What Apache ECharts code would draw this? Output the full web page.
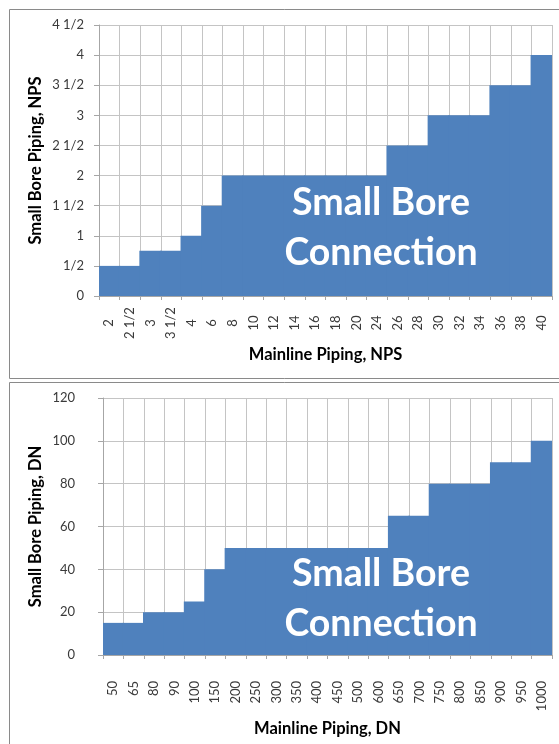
<!DOCTYPE html>
<html>
<head>
<meta charset="utf-8">
<script src="https://cdn.jsdelivr.net/npm/echarts@6/dist/echarts.min.js"></script>
<style>
html,body{margin:0;padding:0;background:#fff;}
#c{width:559px;height:744px;}
</style>
</head>
<body>
<div id="c"></div>
<script>
const npsCategories = ['2','2 1/2','3','3 1/2','4','6','8','10','12','14','16','18','20','24','26','28','30','32','34','36','38','40'];
const npsSmallBore = [0.5,0.5,0.75,0.75,1,1.5,2,2,2,2,2,2,2,2,2.5,2.5,3,3,3,3.5,3.5,4];
const npsYTicks = ['0','1/2','1','1 1/2','2','2 1/2','3','3 1/2','4','4 1/2'];

const dnCategories = ['50','65','80','90','100','150','200','250','300','350','400','450','500','600','650','700','750','800','850','900','950','1000'];
const dnSmallBore = [15,15,20,20,25,40,50,50,50,50,50,50,50,50,65,65,80,80,80,90,90,100];
const dnYTicks = ['0','20','40','60','80','100','120'];

const FONT = 'Lato';
const gridColor = '#c4c4c4';
const axisColor = '#a6a6a6';
const labelColor = '#3a3a3a';
const barColor = '#4F81BD';

function xAxis(gridIndex, data, name, margin, align, nameGap) {
  return {
    type: 'category', gridIndex, data, z: 0,
    boundaryGap: true,
    name, nameLocation: 'middle', nameGap, nameMoveOverlap: false,
    nameTextStyle: {fontFamily: FONT, fontWeight: 'bold', fontSize: 16.5, color: '#000'},
    axisLine: {show: true, lineStyle: {color: axisColor, width: 1}},
    axisTick: {show: true, interval: 0, length: 4, lineStyle: {color: axisColor}},
    axisLabel: {interval: 0, rotate: 90, margin, align, verticalAlign: 'middle',
      fontFamily: FONT, fontSize: 13, color: labelColor, hideOverlap: false},
    splitLine: {show: true, interval: 0, lineStyle: {color: gridColor, width: 1}}
  };
}
function yAxis(gridIndex, max, interval, ticks, name, margin, nameGap) {
  return {
    type: 'value', gridIndex, min: 0, max, interval, z: 0,
    name, nameLocation: 'middle', nameGap, nameMoveOverlap: false,
    nameTextStyle: {fontFamily: FONT, fontWeight: 'bold', fontSize: 16.5, color: '#000'},
    axisLine: {show: true, lineStyle: {color: axisColor, width: 1}},
    axisTick: {show: true, length: 5, lineStyle: {color: axisColor}},
    axisLabel: {margin, fontFamily: FONT, fontSize: 13, color: labelColor,
      formatter: v => ticks[Math.round(v / interval)]},
    splitLine: {show: true, lineStyle: {color: gridColor, width: 1}}
  };
}

const chart = echarts.init(document.getElementById('c'), null, {renderer: 'canvas'});
chart.setOption({
  animation: false,
  backgroundColor: '#fff',
  grid: [
    {left: 99, top: 25, width: 453, height: 271, containLabel: false, outerBoundsMode: 'none'},
    {left: 103, top: 398, width: 449, height: 257, containLabel: false, outerBoundsMode: 'none'}
  ],
  xAxis: [
    xAxis(0, npsCategories, 'Mainline Piping, NPS', 27, 'center', 50),
    xAxis(1, dnCategories, 'Mainline Piping, DN', 26, 'right', 65)
  ],
  yAxis: [
    yAxis(0, 4.5, 0.5, npsYTicks, 'Small Bore Piping, NPS', 15, 55),
    yAxis(1, 120, 20, dnYTicks, 'Small Bore Piping, DN', 28, 59)
  ],
  series: [
    {type: 'bar', xAxisIndex: 0, yAxisIndex: 0, data: npsSmallBore, barWidth: '108%', z: 5, zlevel: 1,
      itemStyle: {color: barColor, borderWidth: 0}},
    {type: 'bar', xAxisIndex: 1, yAxisIndex: 1, data: dnSmallBore, barWidth: '108%', z: 5, zlevel: 1,
      itemStyle: {color: barColor, borderWidth: 0}}
  ],
  graphic: [
    {type: 'rect', shape: {x: 9.5, y: 9.5, width: 560, height: 369}, style: {fill: 'none', stroke: '#8a8a8a', lineWidth: 1}, z: 100},
    {type: 'rect', shape: {x: 9.5, y: 382.5, width: 560, height: 400}, style: {fill: 'none', stroke: '#8a8a8a', lineWidth: 1}, z: 100},
    {type: 'text', x: 381, y: 178, z: 100, zlevel: 2,
      style: {text: 'Small Bore\nConnection', fill: '#fff', font: 'bold 37.5px Lato', align: 'center', verticalAlign: 'top', lineHeight: 50}},
    {type: 'text', x: 381, y: 549, z: 100, zlevel: 2,
      style: {text: 'Small Bore\nConnection', fill: '#fff', font: 'bold 37.5px Lato', align: 'center', verticalAlign: 'top', lineHeight: 50}}
  ]
});
</script>
</body>
</html>
